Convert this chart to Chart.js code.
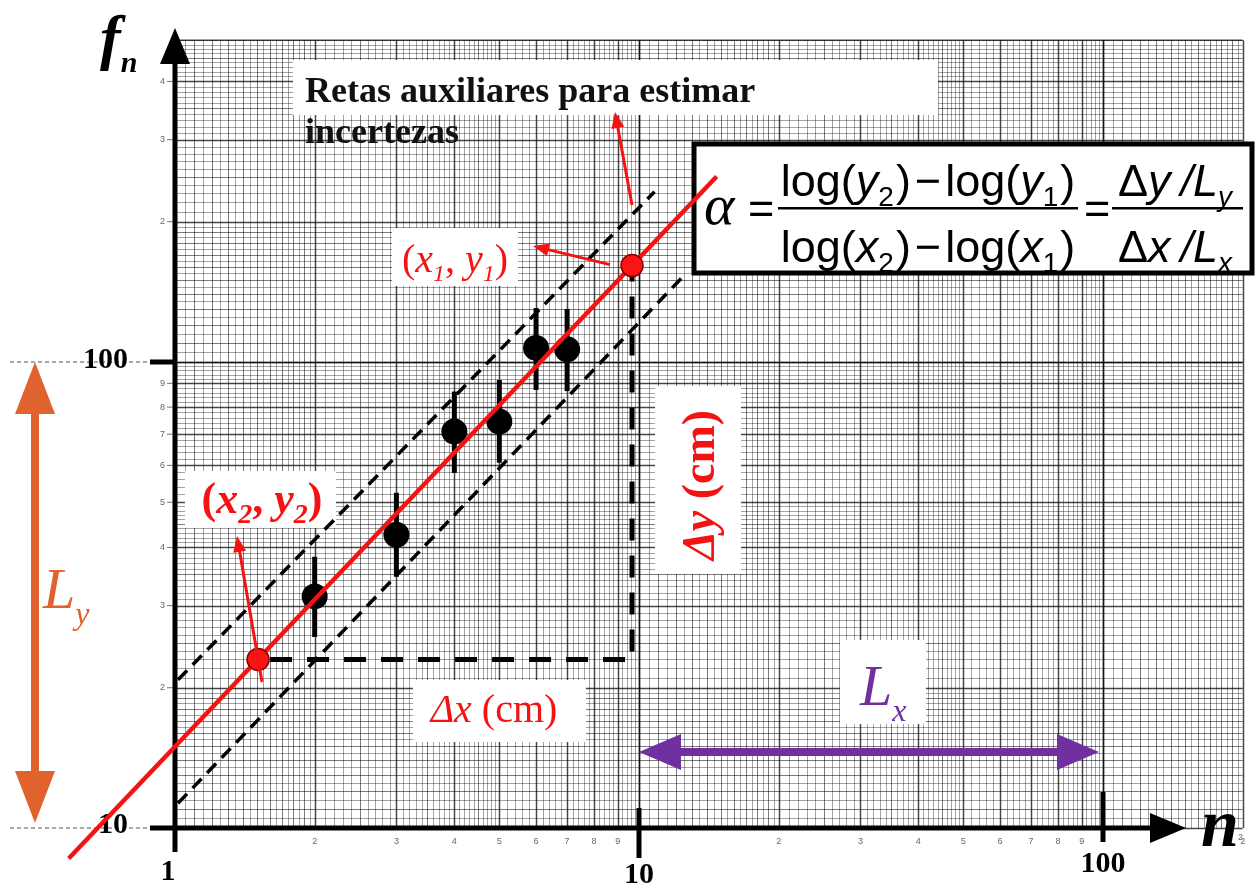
<!DOCTYPE html>
<html>
<head>
<meta charset="utf-8">
<script src="https://cdn.jsdelivr.net/npm/chart.js@4.4.0/dist/chart.umd.min.js"></script>
<style>
  html, body { margin: 0; padding: 0; background: #fff; overflow: hidden; }
  canvas { display: block; }
</style>
</head>
<body>
<canvas id="c" width="1260" height="884"></canvas>
<script>
// Harmonic frequencies f_n against harmonic number n (log-log paper)
const harmonicN = [2, 3, 4, 5, 6, 7];
const frequency = [31.4, 42.6, 70.9, 74.5, 107.2, 106.5];
const freqLow   = [25.7, 34.6, 57.8, 60.8, 87.1, 86.6];
const freqHigh  = [38.2, 52.4, 86.4, 91.5, 130.6, 130.0];

// Best straight line and the two auxiliary lines used for the uncertainty
const fitN = [0.59, 14.7];
const fitF = [8.6, 250];
const upperAuxN = [1.015, 10.8];
const upperAuxF = [20.8, 232];
const lowerAuxN = [1.015, 12.4];
const lowerAuxF = [11.3, 152];

// Points picked on the line: (x2, y2) and (x1, y1)
const pickedN = [1.51, 9.66];
const pickedF = [23.0, 161];

// Axis ticks
const xTickValues = [1, 10, 100];
const xTickLabels = ['1', '10', '100'];
const yTickValues = [10, 100];
const yTickLabels = ['10', '100'];

// Small printed numbers of the log paper
const paperXMarks = [2, 3, 4, 5, 6, 7, 8, 9, 20, 30, 40, 50, 60, 70, 80, 90, 200];
const paperYMarks = [20, 30, 40, 50, 60, 70, 80, 90, 200, 300, 400];

const PAPER = { xMin: 1, xMax: 200, yMin: 10, yMax: 490 };

const RED = 'rgb(244,18,18)';
const PURPLE = '#7030a0';
const ORANGE = '#e0622c';
const SERIF = '"Liberation Serif", "DejaVu Serif", serif';
const SANS = '"Liberation Sans", Arial, sans-serif';

function paperValues(lo, hi) {
  const out = [];
  for (let e = Math.floor(Math.log10(lo)); Math.pow(10, e) <= hi; e++) {
    const b = Math.pow(10, e);
    for (let k = 100; k <= 1000;) {
      const step = k < 200 ? 5 : (k < 500 ? 10 : 20);
      let lvl = 1;
      if (k % 100 === 0) lvl = 3;
      else if (k < 200 && k % 10 === 0) lvl = 2;
      else if (k < 500 && k % 50 === 0) lvl = 2;
      const v = b * k / 100;
      if (v >= lo * 0.9999 && v <= hi * 1.0001) out.push({ v, lvl });
      k += step;
    }
  }
  return out;
}

function drawRuns(ctx, list, x, y, align, color) {
  let total = 0;
  const widths = list.map(r => {
    ctx.font = r[1];
    const w = ctx.measureText(r[0]).width + (r[3] || 0);
    total += w;
    return w;
  });
  let cx = align === 'center' ? x - total / 2 : x;
  ctx.fillStyle = color;
  ctx.textAlign = 'left';
  ctx.textBaseline = 'alphabetic';
  list.forEach((r, i) => {
    ctx.font = r[1];
    ctx.fillText(r[0], cx, y + (r[2] || 0));
    cx += widths[i];
  });
  return total;
}

function arrow(ctx, x0, y0, x1, y1, color, lw, headLen, headW, both) {
  const a = Math.atan2(y1 - y0, x1 - x0);
  const ca = Math.cos(a), sa = Math.sin(a);
  const sx = both ? x0 + ca * headLen * 0.9 : x0;
  const sy = both ? y0 + sa * headLen * 0.9 : y0;
  const ex = x1 - ca * headLen * 0.9, ey = y1 - sa * headLen * 0.9;
  ctx.save();
  ctx.strokeStyle = color;
  ctx.fillStyle = color;
  ctx.lineWidth = lw;
  ctx.lineCap = 'butt';
  ctx.beginPath(); ctx.moveTo(sx, sy); ctx.lineTo(ex, ey); ctx.stroke();
  const head = (tx, ty, dir) => {
    const c = Math.cos(dir), s = Math.sin(dir);
    const bx = tx - c * headLen, by = ty - s * headLen;
    ctx.beginPath();
    ctx.moveTo(tx, ty);
    ctx.lineTo(bx - s * headW / 2, by + c * headW / 2);
    ctx.lineTo(bx + s * headW / 2, by - c * headW / 2);
    ctx.closePath();
    ctx.fill();
  };
  head(x1, y1, a);
  if (both) head(x0, y0, a + Math.PI);
  ctx.restore();
}

function whiteBox(ctx, x, y, w, h) {
  ctx.fillStyle = '#fff';
  ctx.fillRect(x, y, w, h);
}

const paperPlugin = {
  id: 'logPaper',
  beforeDatasetsDraw(chart) {
    const ctx = chart.ctx;
    const xs = chart.scales.x, ys = chart.scales.y;
    const X = v => xs.getPixelForValue(v);
    const Y = v => ys.getPixelForValue(v);
    const left = X(PAPER.xMin), right = X(PAPER.xMax);
    const bottom = Y(PAPER.yMin), top = Y(PAPER.yMax);

    // log-log paper rulings
    const styles = {
      1: ['rgba(0,0,0,0.36)', 1],
      2: ['rgba(0,0,0,0.52)', 1],
      3: ['rgba(0,0,0,0.72)', 1.5]
    };
    ctx.save();
    paperValues(PAPER.xMin, PAPER.xMax).forEach(g => {
      const px = Math.round(X(g.v)) + 0.5;
      ctx.strokeStyle = styles[g.lvl][0];
      ctx.lineWidth = styles[g.lvl][1];
      ctx.beginPath(); ctx.moveTo(px, top); ctx.lineTo(px, bottom); ctx.stroke();
    });
    paperValues(PAPER.yMin, PAPER.yMax).forEach(g => {
      const py = Math.round(Y(g.v)) + 0.5;
      ctx.strokeStyle = styles[g.lvl][0];
      ctx.lineWidth = styles[g.lvl][1];
      ctx.beginPath(); ctx.moveTo(left, py); ctx.lineTo(right, py); ctx.stroke();
    });
    ctx.strokeStyle = 'rgba(0,0,0,0.7)';
    ctx.lineWidth = 1.5;
    ctx.beginPath(); ctx.moveTo(left, top); ctx.lineTo(right, top); ctx.stroke();

    // printed paper numbers
    ctx.fillStyle = '#666';
    ctx.font = '9px ' + SANS;
    ctx.textAlign = 'right';
    ctx.textBaseline = 'middle';
    paperYMarks.forEach(v => {
      const py = Y(v);
      const d = String(Math.round(v / Math.pow(10, Math.floor(Math.log10(v)))));
      ctx.fillText(d, left - 10, py);
      ctx.strokeStyle = '#777'; ctx.lineWidth = 1;
      ctx.beginPath(); ctx.moveTo(left - 8, py); ctx.lineTo(left, py); ctx.stroke();
    });
    ctx.textAlign = 'center';
    paperXMarks.forEach(v => {
      const d = String(Math.round(v / Math.pow(10, Math.floor(Math.log10(v)))));
      ctx.fillText(d, X(v), bottom + 14);
    });

    // leader lines towards the decade labels on the left
    ctx.strokeStyle = '#555';
    ctx.lineWidth = 1.2;
    ctx.setLineDash([4, 3]);
    yTickValues.forEach(v => {
      const py = Y(v);
      ctx.beginPath(); ctx.moveTo(10, py); ctx.lineTo(left - 25, py); ctx.stroke();
    });
    ctx.setLineDash([]);

    // axes with arrows
    ctx.strokeStyle = '#000';
    ctx.fillStyle = '#000';
    ctx.lineWidth = 5;
    const x0 = X(1), y0 = Y(10);
    ctx.beginPath(); ctx.moveTo(left - 25, y0); ctx.lineTo(1160, y0); ctx.stroke();
    ctx.beginPath(); ctx.moveTo(1150, y0 - 15); ctx.lineTo(1186, y0); ctx.lineTo(1150, y0 + 15); ctx.closePath(); ctx.fill();
    ctx.beginPath(); ctx.moveTo(x0, y0 + 24); ctx.lineTo(x0, 55); ctx.stroke();
    ctx.beginPath(); ctx.moveTo(x0 - 15, 64); ctx.lineTo(x0, 28); ctx.lineTo(x0 + 15, 64); ctx.closePath(); ctx.fill();
    // decade tick marks
    ctx.beginPath(); ctx.moveTo(X(10), y0 - 20); ctx.lineTo(X(10), y0 + 30); ctx.stroke();
    ctx.beginPath(); ctx.moveTo(X(100), y0 - 36); ctx.lineTo(X(100), y0 + 14); ctx.stroke();
    ctx.beginPath(); ctx.moveTo(left - 25, Y(100)); ctx.lineTo(x0 + 2, Y(100)); ctx.stroke();

    // tick labels
    ctx.font = 'bold 30px ' + SERIF;
    ctx.textBaseline = 'alphabetic';
    ctx.textAlign = 'center';
    const xLabelDy = [52, 55, 44];
    xTickValues.forEach((v, i) => ctx.fillText(xTickLabels[i], X(v) - (i === 0 ? 7 : 0), y0 + xLabelDy[i]));
    ctx.textAlign = 'right';
    yTickValues.forEach((v, i) => ctx.fillText(yTickLabels[i], 128, Y(v) + (i === 0 ? 5 : 6)));

    // axis titles
    drawRuns(ctx, [['f', 'italic bold 62px ' + SERIF], ['n', 'italic bold 30px ' + SERIF, 14]], 100, 58, 'left', '#000');
    ctx.font = 'italic bold 68px ' + SERIF;
    ctx.fillStyle = '#000';
    ctx.textAlign = 'left';
    ctx.fillText('n', 1201, y0 + 18);
    ctx.font = '9px ' + SANS; ctx.fillStyle = '#666';
    ctx.fillText('2', 1238, y0 + 12);

    // note on the auxiliary lines
    whiteBox(ctx, 293, 60, 645, 55);
    ctx.fillStyle = '#111';
    ctx.font = 'bold 36px ' + SERIF;
    ctx.textAlign = 'left';
    ctx.fillText('Retas auxiliares para estimar', 305, 102);
    ctx.fillText('incertezas', 305, 143);

    // slope formula
    ctx.fillStyle = '#fff';
    ctx.fillRect(694, 144, 558, 129);
    ctx.strokeStyle = '#000';
    ctx.lineWidth = 5;
    ctx.strokeRect(694, 144, 558, 129);
    const fs = 45, fsub = 28;
    const N = fs + 'px ' + SANS, I = 'italic ' + fs + 'px ' + SANS, S = fsub + 'px ' + SANS, SI = 'italic ' + fsub + 'px ' + SANS;
    drawRuns(ctx, [['α', 'italic 58px ' + SERIF]], 704, 224, 'left', '#000');
    drawRuns(ctx, [['=', N]], 748, 223, 'left', '#000');
    drawRuns(ctx, [['log(', N], ['y', I], ['2', S, 10, 2], [')', N, 0, 4], ['−', N, 0, 4], ['log(', N], ['y', I], ['1', S, 10, 2], [')', N]], 928, 196, 'center', '#000');
    drawRuns(ctx, [['log(', N], ['x', I], ['2', S, 10, 2], [')', N, 0, 4], ['−', N, 0, 4], ['log(', N], ['x', I], ['1', S, 10, 2], [')', N]], 928, 262, 'center', '#000');
    ctx.fillStyle = '#000';
    ctx.fillRect(778, 207, 300, 2.5);
    drawRuns(ctx, [['=', N]], 1084, 223, 'left', '#000');
    drawRuns(ctx, [['Δ', N], ['y', I, 0, 10], ['/', I], ['L', I], ['y', SI, 10]], 1118, 196, 'left', '#000');
    drawRuns(ctx, [['Δ', N], ['x', I, 0, 10], ['/', I], ['L', I], ['x', SI, 10]], 1118, 262, 'left', '#000');
    ctx.fillStyle = '#000';
    ctx.fillRect(1112, 207, 131, 2.5);

    // labels of the picked points
    whiteBox(ctx, 392, 228, 126, 58);
    drawRuns(ctx, [['(', '40px ' + SERIF], ['x', 'italic 40px ' + SERIF], ['1', 'italic 24px ' + SERIF, 9], [', ', '40px ' + SERIF], ['y', 'italic 40px ' + SERIF], ['1', 'italic 24px ' + SERIF, 9], [')', '40px ' + SERIF]], 455, 272, 'center', RED);
    whiteBox(ctx, 185, 471, 151, 57);
    drawRuns(ctx, [['(', 'bold 44px ' + SERIF], ['x', 'italic bold 44px ' + SERIF], ['2', 'italic bold 28px ' + SERIF, 10], [', ', 'bold 44px ' + SERIF], ['y', 'italic bold 44px ' + SERIF], ['2', 'italic bold 28px ' + SERIF, 10], [')', 'bold 44px ' + SERIF]], 262, 513, 'center', RED);

    // Δy and Δx labels
    whiteBox(ctx, 655, 386, 86, 188);
    ctx.save();
    ctx.translate(714, 485);
    ctx.rotate(-Math.PI / 2);
    drawRuns(ctx, [['Δ', 'italic bold 46px ' + SERIF], ['y', 'italic bold 46px ' + SERIF], [' (cm)', 'bold 46px ' + SERIF]], 0, 0, 'center', RED);
    ctx.restore();
    whiteBox(ctx, 413, 680, 173, 62);
    drawRuns(ctx, [['Δ', 'italic 40px ' + SERIF], ['x', 'italic 40px ' + SERIF], [' (cm)', '40px ' + SERIF]], 494, 722, 'center', RED);

    // L_x and L_y labels
    whiteBox(ctx, 840, 640, 86, 84);
    drawRuns(ctx, [['L', 'italic 58px ' + SERIF], ['x', 'italic 32px ' + SERIF, 16]], 860, 705, 'left', PURPLE);
    drawRuns(ctx, [['L', 'italic 58px ' + SERIF], ['y', 'italic 32px ' + SERIF, 16]], 43, 608, 'left', ORANGE);

    // error bars
    ctx.strokeStyle = '#000';
    ctx.lineWidth = 5;
    harmonicN.forEach((n, i) => {
      const px = X(n);
      ctx.beginPath(); ctx.moveTo(px, Y(freqLow[i])); ctx.lineTo(px, Y(freqHigh[i])); ctx.stroke();
    });
    ctx.restore();
  },
  afterDatasetsDraw(chart) {
    const ctx = chart.ctx;
    const xs = chart.scales.x, ys = chart.scales.y;
    const X = v => xs.getPixelForValue(v);
    const Y = v => ys.getPixelForValue(v);
    // pointers to the labels
    arrow(ctx, 632, 205, 615, 112, RED, 3, 16, 13, false);
    arrow(ctx, X(pickedN[1]) - 22, Y(pickedF[1]) - 1, 533, 246, RED, 3, 16, 13, false);
    arrow(ctx, 262, 682, 237, 536, RED, 3, 16, 13, false);
    // lengths of one decade along each axis
    arrow(ctx, X(10), 752, X(100) - 4, 752, PURPLE, 8, 42, 36, true);
    arrow(ctx, 35, Y(100), 35, Y(10) - 5, ORANGE, 8, 52, 40, true);
  }
};

const xy = (xsArr, ysArr) => xsArr.map((v, i) => ({ x: v, y: ysArr[i] }));

new Chart(document.getElementById('c'), {
  type: 'scatter',
  data: {
    datasets: [
      {
        label: 'pontos escolhidos',
        data: xy(pickedN, pickedF),
        pointRadius: 11,
        pointBackgroundColor: 'rgb(250,20,20)',
        pointBorderColor: '#8a0000',
        pointBorderWidth: 1.5,
        order: 0
      },
      {
        label: 'reta ajustada',
        data: xy(fitN, fitF),
        showLine: true,
        borderColor: RED,
        borderWidth: 4.5,
        pointRadius: 0,
        order: 1
      },
      {
        label: 'f_n',
        data: xy(harmonicN, frequency),
        pointRadius: 13,
        pointBackgroundColor: '#000',
        pointBorderWidth: 0,
        order: 2
      },
      {
        label: 'auxiliar superior',
        data: xy(upperAuxN, upperAuxF),
        showLine: true,
        borderColor: '#000',
        borderWidth: 3.5,
        borderDash: [13, 8],
        pointRadius: 0,
        order: 3
      },
      {
        label: 'auxiliar inferior',
        data: xy(lowerAuxN, lowerAuxF),
        showLine: true,
        borderColor: '#000',
        borderWidth: 3.5,
        borderDash: [13, 8],
        pointRadius: 0,
        order: 3
      },
      {
        label: 'Δx e Δy',
        data: [
          { x: pickedN[0], y: pickedF[0] },
          { x: pickedN[1], y: pickedF[0] },
          { x: pickedN[1], y: pickedF[1] }
        ],
        showLine: true,
        borderColor: '#000',
        borderWidth: 5,
        borderDash: [22, 15],
        borderDashOffset: -12,
        pointRadius: 0,
        order: 4
      }
    ]
  },
  options: {
    responsive: false,
    animation: false,
    devicePixelRatio: 1,
    events: [],
    layout: { padding: 0, autoPadding: false },
    plugins: { legend: { display: false }, tooltip: { enabled: false } },
    scales: {
      x: {
        type: 'logarithmic',
        display: false,
        bounds: 'data',
        min: Math.pow(10, -175 / 464),
        max: Math.pow(10, 1085 / 464)
      },
      y: {
        type: 'logarithmic',
        display: false,
        bounds: 'data',
        min: Math.pow(10, 1 - 56 / 466),
        max: Math.pow(10, 1 + 828 / 466)
      }
    }
  },
  plugins: [paperPlugin]
});
</script>
</body>
</html>
